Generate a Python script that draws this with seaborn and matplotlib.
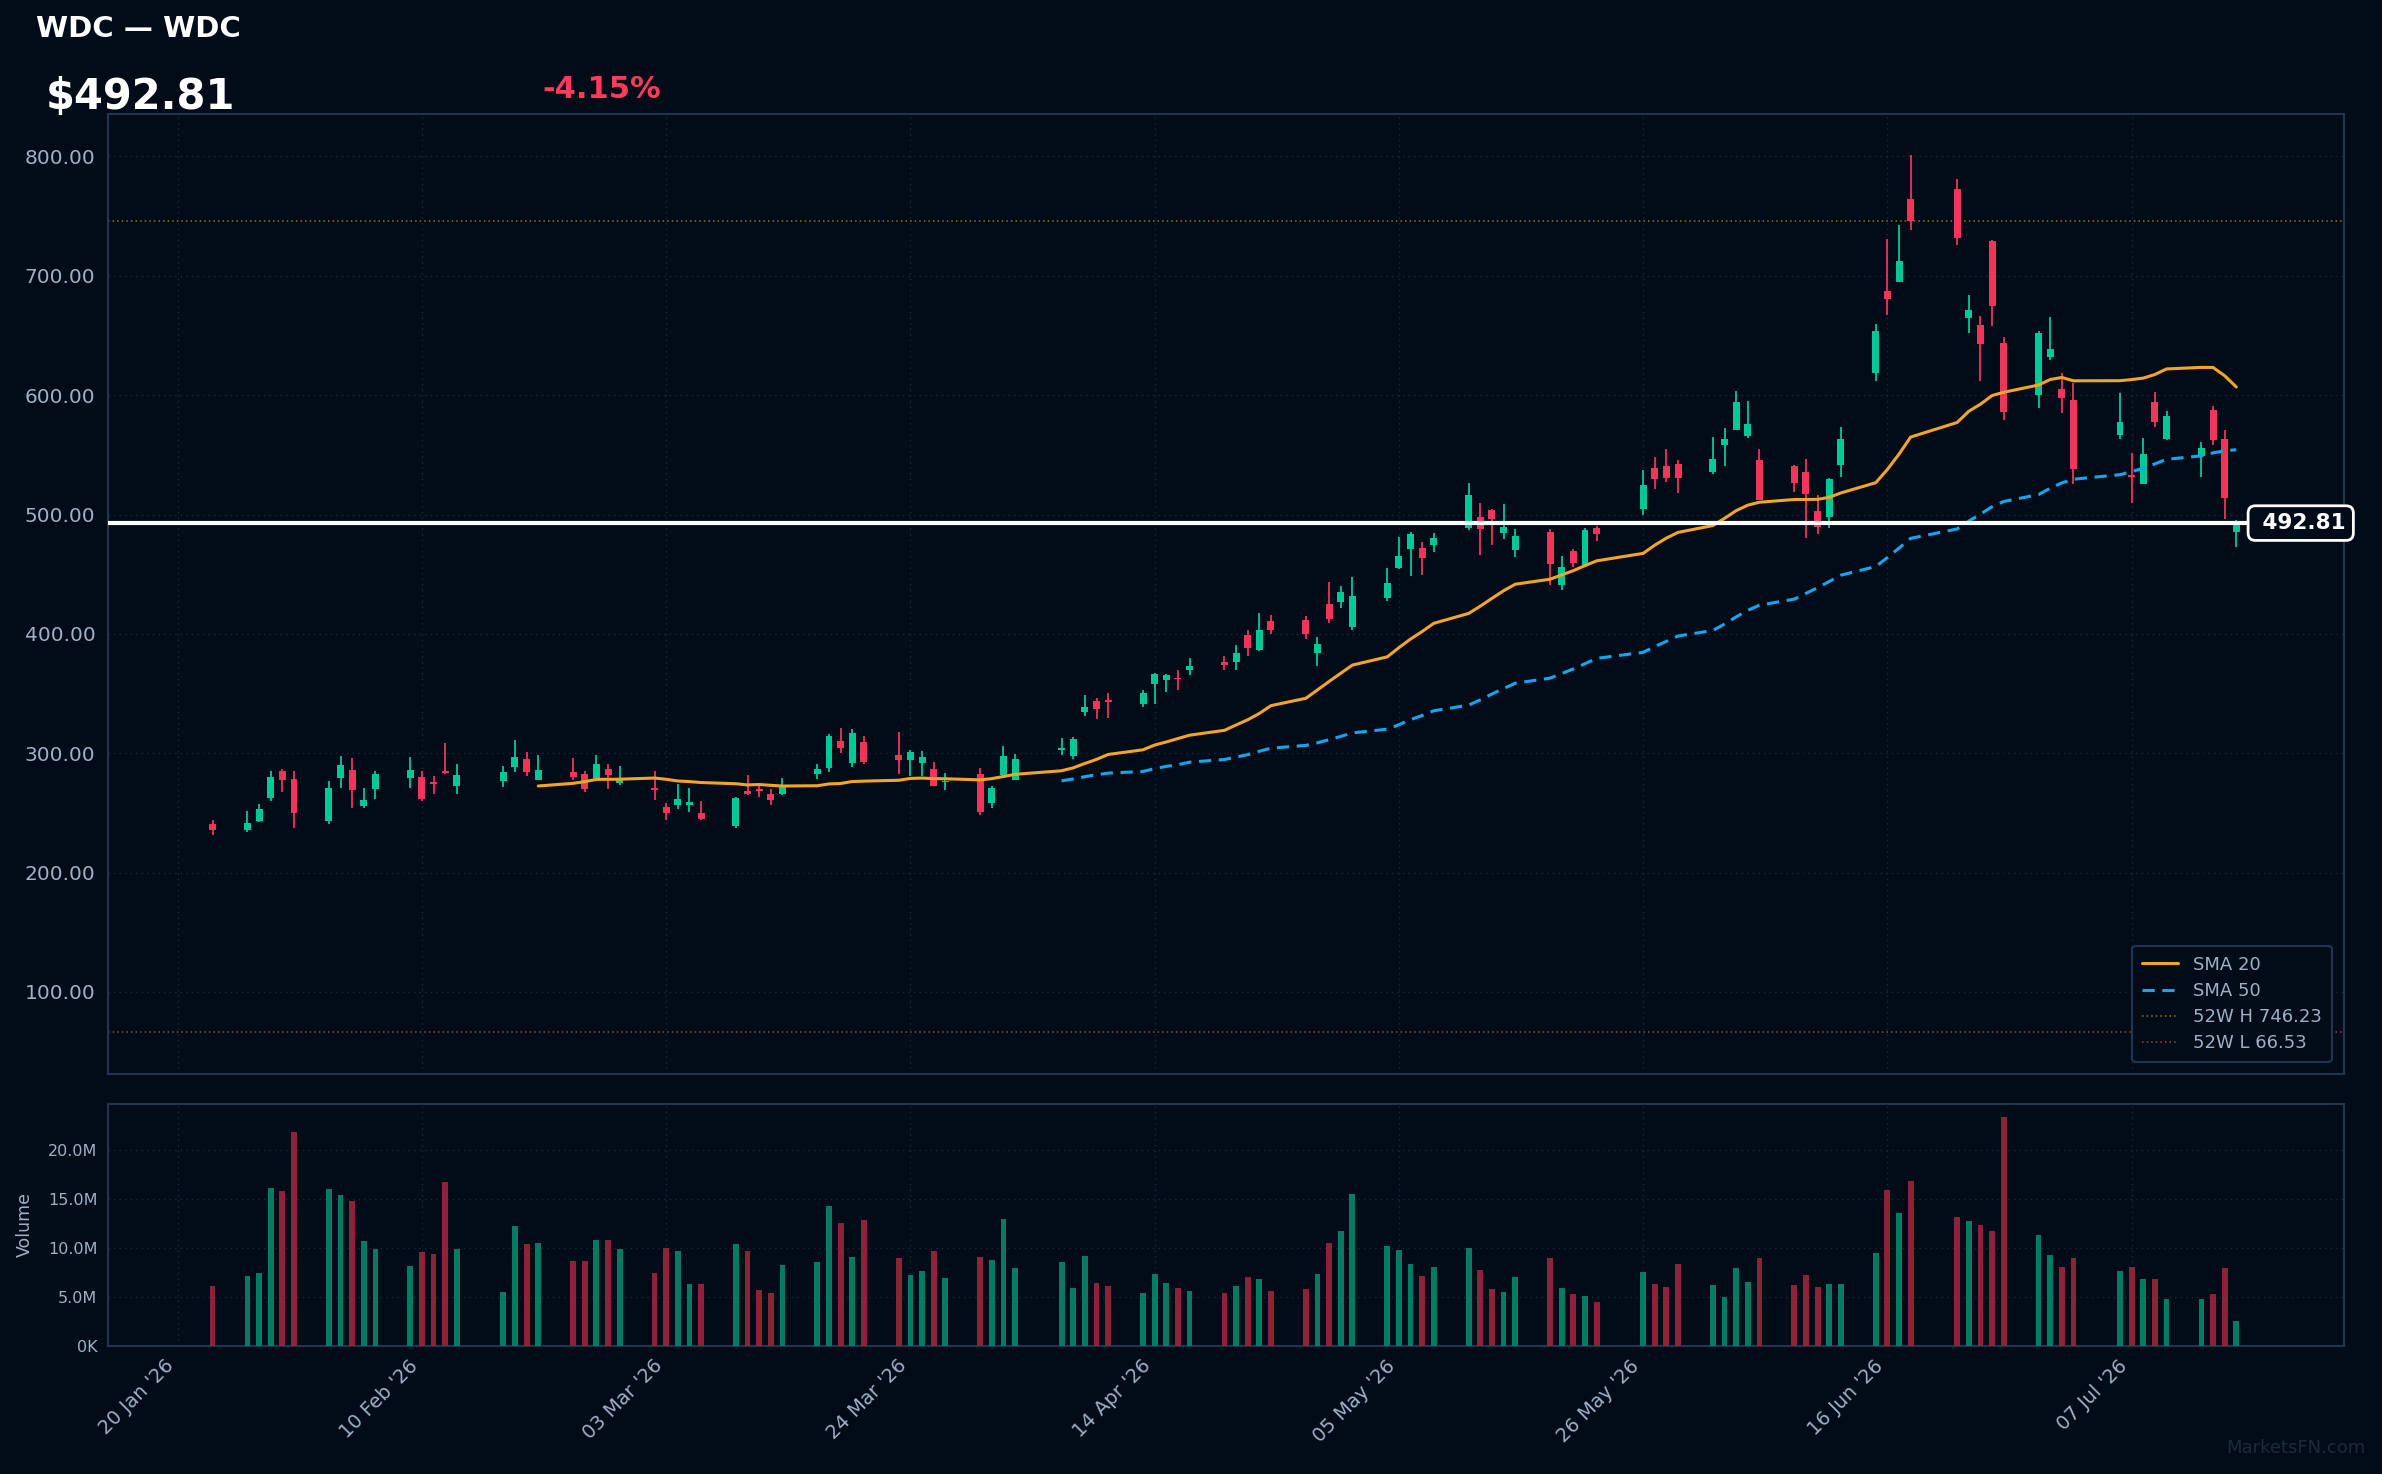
import numpy as np
import pandas as pd
import matplotlib
matplotlib.use("Agg")
import matplotlib.pyplot as plt
import matplotlib.dates as mdates
import matplotlib.transforms as mtransforms
from matplotlib.lines import Line2D
import seaborn as sns

# ---- data ----
dates = [
    "2026-01-23", "2026-01-26", "2026-01-27", "2026-01-28", "2026-01-29", "2026-01-30",
    "2026-02-02", "2026-02-03", "2026-02-04", "2026-02-05", "2026-02-06",
    "2026-02-09", "2026-02-10", "2026-02-11", "2026-02-12", "2026-02-13",
    "2026-02-17", "2026-02-18", "2026-02-19", "2026-02-20",
    "2026-02-23", "2026-02-24", "2026-02-25", "2026-02-26", "2026-02-27",
    "2026-03-02", "2026-03-03", "2026-03-04", "2026-03-05", "2026-03-06",
    "2026-03-09", "2026-03-10", "2026-03-11", "2026-03-12", "2026-03-13",
    "2026-03-16", "2026-03-17", "2026-03-18", "2026-03-19", "2026-03-20",
    "2026-03-23", "2026-03-24", "2026-03-25", "2026-03-26", "2026-03-27",
    "2026-03-30", "2026-03-31", "2026-04-01", "2026-04-02",
    "2026-04-06", "2026-04-07", "2026-04-08", "2026-04-09", "2026-04-10",
    "2026-04-13", "2026-04-14", "2026-04-15", "2026-04-16", "2026-04-17",
    "2026-04-20", "2026-04-21", "2026-04-22", "2026-04-23", "2026-04-24",
    "2026-04-27", "2026-04-28", "2026-04-29", "2026-04-30", "2026-05-01",
    "2026-05-04", "2026-05-05", "2026-05-06", "2026-05-07", "2026-05-08",
    "2026-05-11", "2026-05-12", "2026-05-13", "2026-05-14", "2026-05-15",
    "2026-05-18", "2026-05-19", "2026-05-20", "2026-05-21", "2026-05-22",
    "2026-05-26", "2026-05-27", "2026-05-28", "2026-05-29",
    "2026-06-01", "2026-06-02", "2026-06-03", "2026-06-04", "2026-06-05",
    "2026-06-08", "2026-06-09", "2026-06-10", "2026-06-11", "2026-06-12",
    "2026-06-15", "2026-06-16", "2026-06-17", "2026-06-18",
    "2026-06-22", "2026-06-23", "2026-06-24", "2026-06-25", "2026-06-26",
    "2026-06-29", "2026-06-30", "2026-07-01", "2026-07-02",
    "2026-07-06", "2026-07-07", "2026-07-08", "2026-07-09", "2026-07-10",
    "2026-07-13", "2026-07-14", "2026-07-15", "2026-07-16",
]
opens = [
    240.8, 235.7, 243.3, 262.5, 285.2, 278.5,
    243.3, 279.3, 286.0, 255.8, 270.1,
    279.3, 280.1, 275.5, 285.2, 272.6,
    276.8, 288.5, 295.2, 277.6,
    284.3, 282.6, 279.3, 286.8, 275.1,
    270.9, 255.0, 256.7, 256.7, 250.0,
    239.1, 268.4, 270.1, 265.9, 265.9,
    282.6, 287.7, 310.3, 291.9, 309.5,
    298.3, 294.4, 291.9, 286.8, 275.9,
    282.6, 258.4, 281.8, 277.6,
    302.8, 297.7, 334.6, 343.8, 344.4,
    341.3, 358.1, 361.4, 363.1, 369.8,
    376.5, 376.5, 399.1, 386.5, 410.8,
    411.7, 384.0, 425.1, 426.8, 405.8,
    430.1, 455.2, 471.2, 472.0, 474.5,
    488.7, 498.0, 503.8, 484.6, 470.3,
    485.4, 441.0, 469.5, 457.7, 488.7,
    504.7, 539.0, 540.7, 542.4,
    535.7, 558.3, 570.9, 565.8, 545.7,
    540.7, 535.7, 503.0, 498.0, 541.5,
    618.6, 687.3, 694.9, 764.4,
    772.8, 664.7, 658.8, 729.2, 643.7,
    600.2, 632.0, 605.2, 596.0,
    566.7, 532.6, 525.6, 594.3, 563.3,
    549.1, 587.6, 563.3, 485.0,
]
highs = [
    244.1, 251.6, 257.5, 285.2, 286.8, 285.2,
    276.8, 297.7, 296.0, 270.9, 285.2,
    296.9, 285.2, 281.0, 308.6, 291.0,
    289.3, 311.1, 301.1, 298.6,
    296.0, 285.2, 298.6, 291.0, 289.3,
    285.2, 258.4, 274.3, 270.9, 260.0,
    263.4, 281.8, 273.4, 270.1, 279.3,
    291.0, 316.2, 321.2, 320.4, 314.5,
    317.8, 302.8, 301.9, 292.7, 283.5,
    287.7, 272.6, 306.1, 299.4,
    312.8, 313.7, 348.8, 346.3, 350.5,
    353.0, 367.3, 366.4, 369.8, 379.8,
    381.5, 390.7, 403.3, 417.5, 415.9,
    415.0, 397.4, 443.5, 440.2, 447.7,
    455.2, 481.2, 485.4, 477.0, 484.6,
    526.4, 509.7, 504.7, 508.9, 487.9,
    487.9, 465.3, 471.2, 488.7, 490.4,
    537.3, 548.2, 554.9, 545.7,
    565.0, 572.5, 603.5, 595.2, 554.9,
    541.5, 546.6, 516.4, 530.6, 573.4,
    659.7, 730.9, 742.6, 801.3,
    781.1, 684.0, 666.4, 730.0, 648.8,
    653.8, 665.5, 618.6, 610.2,
    601.9, 551.6, 564.2, 602.7, 586.8,
    560.8, 591.0, 570.9, 495.0,
]
lows = [
    231.5, 234.0, 242.5, 260.0, 267.6, 237.4,
    240.8, 270.9, 254.2, 254.2, 261.7,
    270.9, 260.0, 265.9, 282.6, 265.9,
    271.8, 284.3, 281.0, 277.6,
    277.6, 267.6, 278.0, 270.1, 273.4,
    260.9, 244.1, 253.3, 250.8, 244.1,
    237.4, 265.1, 263.4, 256.7, 265.1,
    278.5, 284.3, 300.2, 288.5, 291.0,
    282.6, 281.0, 281.0, 272.6, 269.3,
    248.3, 254.2, 281.8, 277.6,
    298.6, 295.2, 331.2, 328.7, 329.6,
    338.8, 341.3, 351.4, 353.0, 365.6,
    369.8, 369.8, 381.5, 385.7, 399.9,
    395.8, 373.1, 409.2, 421.7, 403.3,
    427.6, 454.4, 448.5, 449.4, 468.7,
    487.1, 466.1, 474.5, 479.5, 464.5,
    441.0, 436.8, 456.1, 457.7, 477.9,
    499.7, 521.4, 527.3, 518.1,
    534.0, 540.7, 570.9, 564.2, 512.2,
    518.9, 480.4, 483.7, 488.7, 531.5,
    611.9, 667.2, 694.9, 738.4,
    725.9, 652.1, 611.9, 658.0, 579.2,
    589.3, 629.5, 585.1, 525.6,
    563.3, 509.7, 525.6, 573.4, 562.5,
    531.5, 558.3, 496.3, 473.0,
]
closes = [
    235.7, 241.6, 253.3, 280.1, 277.6, 250.0,
    270.9, 290.2, 269.2, 260.9, 282.6,
    286.0, 261.7, 274.3, 283.8, 281.8,
    284.3, 296.9, 284.3, 286.0,
    280.1, 270.1, 291.0, 281.8, 279.3,
    269.2, 250.0, 261.7, 259.2, 245.0,
    262.5, 265.9, 268.7, 260.9, 271.8,
    286.8, 314.5, 304.4, 317.0, 292.7,
    294.4, 301.1, 296.9, 272.6, 276.9,
    250.8, 270.9, 297.7, 295.2,
    304.4, 312.0, 338.8, 337.1, 343.3,
    350.5, 366.4, 365.6, 362.0, 373.1,
    374.0, 384.0, 388.2, 403.3, 403.3,
    399.9, 391.6, 412.5, 435.1, 431.8,
    442.7, 465.3, 483.7, 463.6, 480.4,
    516.4, 487.9, 496.3, 489.6, 482.1,
    458.6, 456.1, 459.4, 487.1, 483.7,
    524.8, 529.8, 530.6, 530.6,
    546.6, 563.3, 594.3, 575.9, 512.2,
    526.5, 517.2, 489.6, 529.8, 563.3,
    653.8, 680.6, 712.4, 745.8,
    731.7, 671.4, 642.9, 674.7, 585.9,
    652.1, 638.7, 597.7, 538.2,
    577.6, 531.6, 550.7, 577.6, 582.6,
    555.8, 562.5, 514.15, 492.81,
]
volumes_m = [
    6.1, 7.1, 7.4, 16.1, 15.8, 21.8,
    16.0, 15.4, 14.8, 10.7, 9.9,
    8.1, 9.6, 9.4, 16.7, 9.9,
    5.5, 12.2, 10.4, 10.5,
    8.7, 8.7, 10.8, 10.8, 9.9,
    7.4, 10.0, 9.7, 6.3, 6.3,
    10.4, 9.7, 5.7, 5.4, 8.3,
    8.6, 14.3, 12.5, 9.1, 12.9,
    9.0, 7.2, 7.6, 9.7, 6.9,
    9.1, 8.8, 13.0, 7.9,
    8.6, 5.9, 9.2, 6.4, 6.1,
    5.4, 7.3, 6.4, 5.9, 5.6,
    5.4, 6.1, 7.0, 6.8, 5.6,
    5.8, 7.3, 10.5, 11.7, 15.5,
    10.2, 9.8, 8.4, 7.1, 8.0,
    10.0, 7.7, 5.8, 5.5, 7.0,
    9.0, 5.9, 5.3, 5.1, 4.5,
    7.5, 6.3, 6.0, 8.4,
    6.2, 5.0, 7.9, 6.5, 9.0,
    6.2, 7.2, 6.0, 6.3, 6.3,
    9.5, 15.9, 13.6, 16.8,
    13.2, 12.7, 12.3, 11.7, 23.4,
    11.3, 9.3, 8.0, 9.0,
    7.6, 8.0, 6.8, 6.8, 4.8,
    4.8, 5.3, 7.9, 2.5,
]
ticker = "WDC"
last_price = 492.81
change_pct = -4.15
high_52w = 746.23
low_52w = 66.53
tick_dates = ["2026-01-20", "2026-02-10", "2026-03-03", "2026-03-24", "2026-04-14",
              "2026-05-05", "2026-05-26", "2026-06-16", "2026-07-07"]
vol_ticks_m = [0, 5, 10, 15, 20]
price_ticks = [100, 200, 300, 400, 500, 600, 700, 800]

# ---- styling ----
BG = "#020c18"
SPINE = "#1f3652"
GRID = "#1b2a3a"
TXT = "#9db0c6"
UP = "#00c896"
DOWN = "#f0345a"
UP_VOL = "#067a63"
DOWN_VOL = "#8d2339"
SMA20_C = "#f5a524"
SMA50_C = "#14a6ec"

sns.set_style("dark")
plt.rcParams.update({
    "figure.facecolor": BG,
    "axes.facecolor": BG,
    "axes.edgecolor": SPINE,
    "text.color": "white",
    "xtick.color": TXT,
    "ytick.color": TXT,
})
plt.rcParams["font.family"] = ["DejaVu Sans"]

df = pd.DataFrame({
    "date": pd.to_datetime(dates),
    "open": opens, "high": highs, "low": lows, "close": closes,
    "volume": np.array(volumes_m) * 1e6,
})
df["x"] = mdates.date2num(df["date"])
df["sma20"] = df["close"].rolling(20).mean()
df["sma50"] = df["close"].rolling(50).mean()
up = df["close"] >= df["open"]

fig = plt.figure(figsize=(23.82, 14.74), dpi=100)
ax = fig.add_axes([0.0453, 0.2714, 0.9387, 0.6513])
axv = fig.add_axes([0.0453, 0.0870, 0.9387, 0.1640], sharex=ax)

# candles
ax.vlines(df["x"], df["low"], df["high"], colors=np.where(up, UP, DOWN), lw=1.3, zorder=3)
body = (df["close"] - df["open"]).abs().clip(lower=1.2)
ax.bar(df["x"], body, bottom=df[["open", "close"]].min(axis=1), width=0.6,
       color=np.where(up, UP, DOWN), linewidth=0, zorder=4)

# moving averages
sns.lineplot(data=df.dropna(subset=["sma20"]), x="x", y="sma20", ax=ax,
             color=SMA20_C, lw=2.2, zorder=5, legend=False)
sns.lineplot(data=df.dropna(subset=["sma50"]), x="x", y="sma50", ax=ax,
             color=SMA50_C, lw=2.2, linestyle=(0, (4, 2.5)), zorder=5, legend=False)

# reference lines
ax.axhline(high_52w, color="#8c7a12", lw=1.1, ls=(0, (1, 2)), zorder=2)
ax.axhline(low_52w, color="#9c4a2e", lw=1.1, ls=(0, (1, 2)), zorder=2)
ax.axhline(last_price, color="white", lw=3, zorder=6)

trans = mtransforms.blended_transform_factory(ax.transAxes, ax.transData)
ax.text(0.9807, last_price, f" {last_price:.2f}", transform=trans, ha="center", va="center",
        fontsize=15.5, fontweight="bold", color="white", zorder=8, clip_on=False,
        bbox=dict(boxstyle="round,pad=0.34", fc=BG, ec="white", lw=2))

# volume
axv.bar(df["x"], df["volume"], width=0.5, color=np.where(up, UP_VOL, DOWN_VOL),
        linewidth=0, zorder=3)

xt = mdates.date2num(pd.to_datetime(tick_dates))
x_left = mdates.date2num(pd.Timestamp("2026-01-14"))
x_right = mdates.date2num(pd.Timestamp("2026-07-25 06:00"))
ax.set_xlim(x_left, x_right)
ax.set_ylim(31.3, 835.6)
ax.set_yticks(price_ticks)
ax.set_yticklabels([f"{p:.2f}" for p in price_ticks], fontsize=14.5)
ax.set_xticks(xt)
ax.tick_params(axis="x", labelbottom=False, length=0)
ax.tick_params(axis="y", length=4, color=TXT, pad=5)
ax.grid(True, color=GRID, ls=(0, (1, 3)), lw=1)
ax.set_xlabel("")
ax.set_ylabel("")

axv.set_ylim(0, 24.7e6)
axv.set_yticks([v * 1e6 for v in vol_ticks_m])
axv.set_yticklabels(["0K" if v == 0 else f"{v:.1f}M" for v in vol_ticks_m], fontsize=11.5)
axv.set_xticks(xt)
axv.set_xticklabels([pd.Timestamp(d).strftime("%d %b '%y") for d in tick_dates],
                    rotation=45, ha="right", fontsize=14)
axv.tick_params(axis="both", length=4, color=TXT)
axv.grid(True, color=GRID, ls=(0, (1, 3)), lw=1)
axv.set_xlabel("")
axv.set_ylabel("Volume", color=TXT, fontsize=12.5)
axv.yaxis.set_label_coords(-0.033, 0.5)

for a in (ax, axv):
    for s in a.spines.values():
        s.set_color(SPINE)
        s.set_linewidth(1.5)
        s.set_visible(True)

# legend
handles = [
    Line2D([], [], color=SMA20_C, lw=2.2),
    Line2D([], [], color=SMA50_C, lw=2.2, ls=(0, (4, 2.5))),
    Line2D([], [], color="#8c7a12", lw=1.1, ls=(0, (1, 2))),
    Line2D([], [], color="#9c4a2e", lw=1.1, ls=(0, (1, 2))),
]
labels = ["SMA 20", "SMA 50", f"52W H {high_52w:.2f}", f"52W L {low_52w:.2f}"]
leg = ax.legend(handles, labels, loc="lower right", fontsize=13, facecolor=BG,
                edgecolor=SPINE, labelcolor=TXT, framealpha=1, borderpad=0.55,
                labelspacing=0.45, bbox_to_anchor=(0.9985, 0.003))
leg.get_frame().set_linewidth(1.5)

# header
fig.text(0.015, 0.975, f"{ticker} — {ticker}", fontsize=21, fontweight="bold",
         color="white", va="baseline")
fig.text(0.019, 0.926, f"${last_price:.2f}", fontsize=30, fontweight="bold",
         color="white", va="baseline")
fig.text(0.2275, 0.9335, f"{change_pct:.2f}%", fontsize=22, fontweight="bold",
         color="#ff3b5c", va="baseline")
fig.text(0.993, 0.014, "MarketsFN.com", fontsize=13, color="#1b2b3b", ha="right")

fig.savefig("out.png", dpi=100, facecolor=BG)
